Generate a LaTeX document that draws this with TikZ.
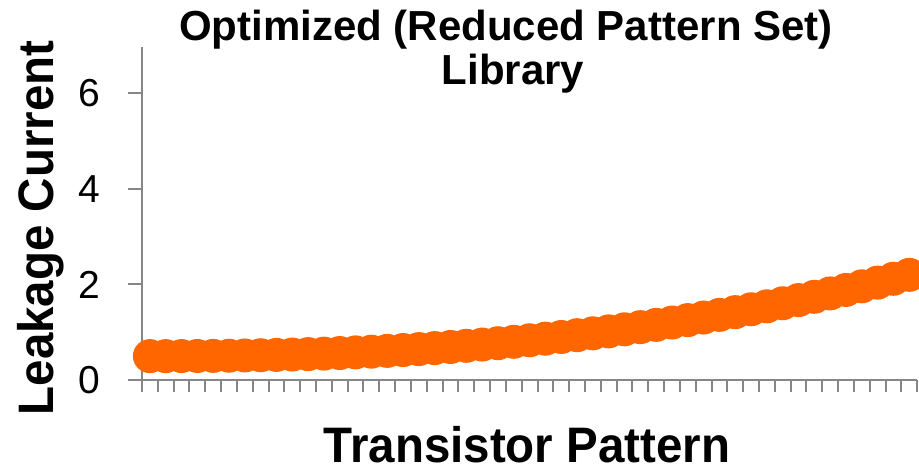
\documentclass[tikz,border=0pt]{standalone}
\usepackage{fontspec}
\setmainfont{Liberation Sans}
\definecolor{axisgray}{HTML}{868686}
\definecolor{dotorange}{HTML}{FF6600}
\begin{document}
\begin{tikzpicture}[x=1pt,y=-1pt,
  axisline/.style={draw=axisgray,line width=2pt},
  titletext/.style={font=\bfseries\fontsize{42}{42}\selectfont,inner sep=0pt,anchor=base},
  axistitle/.style={font=\bfseries\fontsize{47.5}{47.5}\selectfont,inner sep=0pt,anchor=base},
  ticklabel/.style={font=\fontsize{39}{39}\selectfont,inner sep=0pt,anchor=east}]
\useasboundingbox (0,0) rectangle (919,466);
% value v maps to 380 - 47.8 v
% titles
\node[titletext] (title1) at (506,40) {Optimized (Reduced Pattern Set)};
\node[titletext] (title2) at (513,84) {Library};
\node[axistitle] (xtitle) at (527,462) {\scalebox{1}[1.05]{Transistor Pattern}};
\node[axistitle,rotate=90] (ytitle) at (53,228) {\scalebox{1}[1.05]{Leakage Current}};
% y axis with ticks and labels
\draw[axisline] (142,47) -- (142,380);
\foreach \v in {0,2,4,6}{
  \draw[axisline] (128,380-47.8*\v) -- (142,380-47.8*\v);
  \node[ticklabel] (lab\v) at (100,380-47.8*\v) {\v};
}
% x axis with category ticks
\draw[axisline] (128,380) -- (917,380);
\foreach \k in {0,...,49}{
  \draw[axisline] (142+15.82*\k,380) -- (142+15.82*\k,392);
}
% data points
\foreach \i in {0,...,48}{
  \pgfmathsetmacro\val{0.5+1.7*pow(\i/48+0.00001,2.36)}
  \fill[dotorange] (142+15.82*\i+7.91,380-47.8*\val) circle (17);
}
\end{tikzpicture}
\end{document}
